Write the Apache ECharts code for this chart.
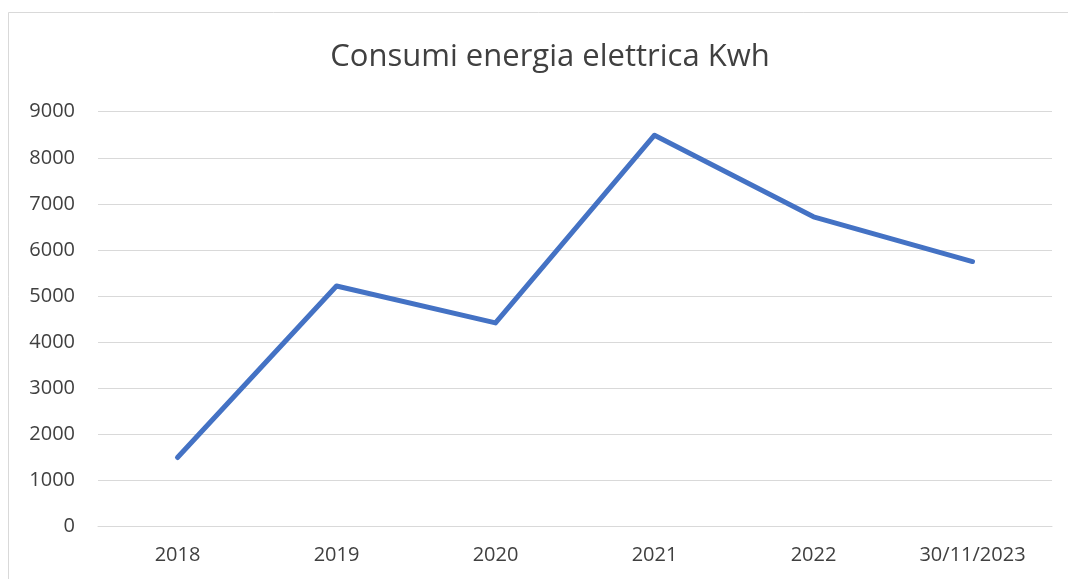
<!DOCTYPE html>
<html><head><meta charset="utf-8">
<script src="https://cdn.jsdelivr.net/npm/echarts@6/dist/echarts.min.js"></script>
<style>html,body{margin:0;padding:0;background:#fff}#c{width:1068px;height:579px}</style>
</head><body><div id="c"></div>
<script>
const categories = ['2018','2019','2020','2021','2022','30/11/2023'];
const values = [1500, 5220, 4420, 8490, 6720, 5750];
const yTicks = {min: 0, max: 9000, interval: 1000};
const titleText = 'Consumi energia elettrica Kwh';

const chart = echarts.init(document.getElementById('c'));
chart.setOption({
  animation: false,
  backgroundColor: '#ffffff',
  graphic: [{
    type: 'rect', silent: true,
    shape: {x: 8.5, y: 12.5, width: 1100, height: 600},
    style: {fill: 'none', stroke: '#d9d9d9', lineWidth: 1}
  }],
  title: {
    text: titleText, left: 545, top: 37, textAlign: 'center',
    textStyle: {fontFamily: '"Open Sans", sans-serif', fontSize: 31, fontWeight: 'normal', color: '#404040'}
  },
  grid: {left: 98, right: 16, top: 111.7, bottom: 52.3, containLabel: false},
  xAxis: {
    type: 'category', data: categories, boundaryGap: true,
    axisLine: {show: true, lineStyle: {color: '#d9d9d9', width: 1}},
    axisTick: {show: false},
    axisLabel: {fontFamily: '"Open Sans", sans-serif', fontSize: 20, color: '#404040', margin: 19}
  },
  yAxis: {
    type: 'value', min: yTicks.min, max: yTicks.max, interval: yTicks.interval,
    axisLine: {show: false}, axisTick: {show: false},
    splitLine: {lineStyle: {color: '#d9d9d9', width: 1}},
    axisLabel: {fontFamily: '"Open Sans", sans-serif', fontSize: 20, color: '#404040', margin: 23,
      formatter: v => String(v)}
  },
  series: [{
    type: 'line', data: values, symbol: 'none',
    lineStyle: {color: '#4472C4', width: 5, cap: 'round', join: 'round'}
  }]
});
</script></body></html>
